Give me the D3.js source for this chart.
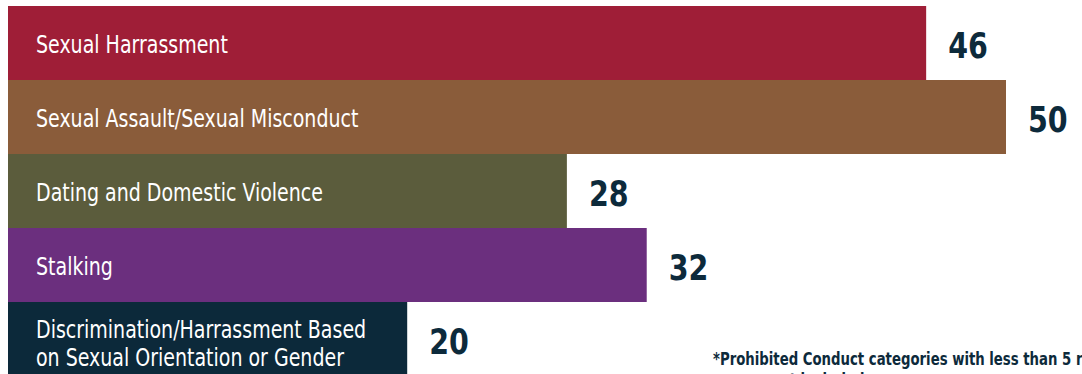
<!DOCTYPE html>
<html>
<head>
<meta charset="utf-8">
<script src="https://cdn.jsdelivr.net/npm/d3@7"></script>
<style>
  html, body { margin: 0; padding: 0; background: #fff; overflow: hidden; }
  svg { display: block; }
</style>
</head>
<body>
<div id="chart"></div>
<script>
// Prohibited conduct reports by category
const categories = [
  ["Sexual Harrassment"],
  ["Sexual Assault/Sexual Misconduct"],
  ["Dating and Domestic Violence"],
  ["Stalking"],
  ["Discrimination/Harrassment Based", "on Sexual Orientation or Gender"]
];
const counts = [46, 50, 28, 32, 20];
const barColors = ["#9f1e37", "#8a5c3a", "#5b5c3c", "#6b2f7e", "#0c293a"];
const footnote = ["*Prohibited Conduct categories with less than 5 reports", "are not included."];

const width = 1082, height = 374;
const margin = {top: 6, left: 8};
const font = "'DejaVu Sans Condensed', 'Liberation Sans Narrow', sans-serif";
const navy = "#0d2a3b";
const squeeze = 0.88; // the source face is narrower than DejaVu Condensed

const rows = categories.map((c, i) => ({name: c, value: counts[i], color: barColors[i], key: c.join(" ")}));

const svg = d3.select("#chart").append("svg")
    .attr("width", width)
    .attr("height", height);

const x = d3.scaleLinear()
    .domain([0, d3.max(counts)])
    .range([margin.left, 1006]);

const y = d3.scaleBand()
    .domain(rows.map(d => d.key))
    .range([margin.top, margin.top + 74 * rows.length])
    .padding(0);

svg.selectAll("rect.bar")
    .data(rows)
    .enter().append("rect")
    .attr("class", "bar")
    .attr("x", x(0))
    .attr("y", d => y(d.key))
    .attr("width", d => x(d.value) - x(0))
    .attr("height", y.bandwidth())
    .attr("fill", d => d.color);

// category names inside the bars
let names = svg.selectAll("text.name")
    .data(rows)
    .enter().append("text")
    .attr("class", "name")
    .attr("transform", d => {
        let mid = y(d.key) + y.bandwidth() / 2;
        let ty = mid + 10 - (d.name.length - 1) * 11;
        return `translate(${x(0) + 28},${ty}) scale(${squeeze},1)`;
    })
    .attr("fill", "#fff")
    .style("font-family", font)
    .style("font-size", "24px");

names.selectAll("tspan")
    .data(d => d.name)
    .enter().append("tspan")
    .attr("x", 0)
    .attr("dy", (t, i) => i === 0 ? 0 : 28)
    .text(t => t);

// value labels at the end of each bar
svg.selectAll("text.value")
    .data(rows)
    .enter().append("text")
    .attr("class", "value")
    .attr("transform", d => `translate(${x(d.value) + 22},${y(d.key) + y.bandwidth() / 2 + 15}) scale(${squeeze},1)`)
    .attr("fill", navy)
    .style("font-family", font)
    .style("font-weight", "bold")
    .style("font-size", "36px")
    .text(d => d.value);

// footnote, runs off the right edge like the source
svg.selectAll("text.note")
    .data(footnote)
    .enter().append("text")
    .attr("class", "note")
    .attr("transform", (d, i) => `translate(${i === 0 ? 713 : 742},${365 + i * 21}) scale(0.82,1)`)
    .attr("fill", navy)
    .style("font-family", font)
    .style("font-weight", "bold")
    .style("font-size", "18px")
    .text(d => d);
</script>
</body>
</html>
